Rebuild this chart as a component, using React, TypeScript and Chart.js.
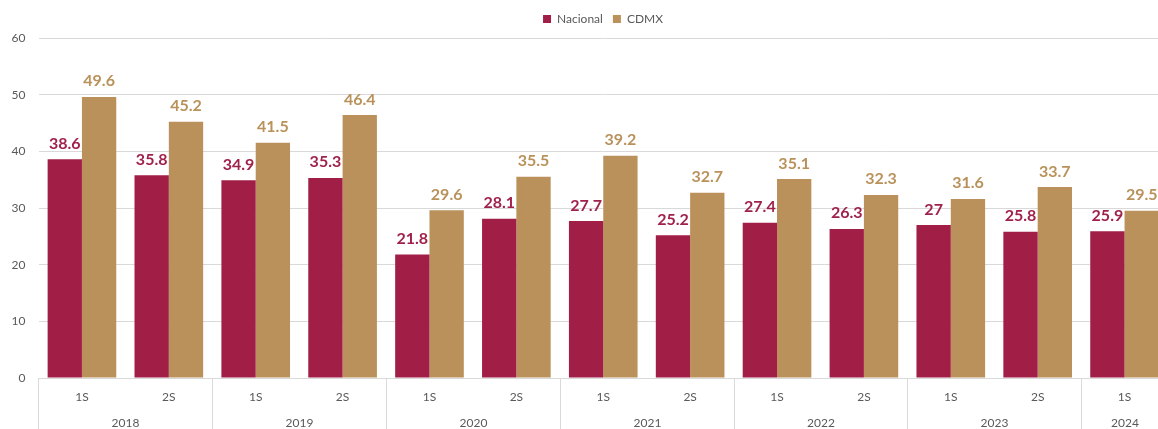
import React, { useEffect, useRef } from "react";
import { Chart, registerables } from "chart.js";

Chart.register(...registerables);

const semesters = ["1S", "2S", "1S", "2S", "1S", "2S", "1S", "2S", "1S", "2S", "1S", "2S", "1S"];
const years = ["2018", "2018", "2019", "2019", "2020", "2020", "2021", "2021", "2022", "2022", "2023", "2023", "2024"];
const nacional = [38.6, 35.8, 34.9, 35.3, 21.8, 28.1, 27.7, 25.2, 27.4, 26.3, 27, 25.8, 25.9];
const cdmx = [49.6, 45.2, 41.5, 46.4, 29.6, 35.5, 39.2, 32.7, 35.1, 32.3, 31.6, 33.7, 29.5];
const yTicks = [0, 10, 20, 30, 40, 50, 60];

const MAROON = "#A11F46";
const GOLD = "#BA915B";
const MAROON_TEXT = "#A0224C";
const GOLD_TEXT = "#B8925A";
const AXIS_TEXT = "#595959";
const GRID = "#D9D9D9";
const FONT = "Lato, 'Open Sans', sans-serif";

const dataLabelPlugin = {
  id: "dataLabels",
  afterDatasetsDraw(chart: any) {
    const ctx = chart.ctx;
    ctx.save();
    ctx.font = `bold 16px ${FONT}`;
    ctx.textAlign = "center";
    ctx.textBaseline = "alphabetic";
    chart.data.datasets.forEach((ds: any, di: number) => {
      const meta = chart.getDatasetMeta(di);
      ctx.fillStyle = ds.labelColor;
      meta.data.forEach((bar: any, i: number) => {
        ctx.fillText(String(ds.data[i]), bar.x, bar.y - 10.5);
      });
    });
    ctx.restore();
  },
};

const yearPlugin = {
  id: "yearGroups",
  afterDraw(chart: any) {
    const x = chart.scales.x;
    const ctx = chart.ctx;
    const area = chart.chartArea;
    const half = (x.getPixelForValue(1) - x.getPixelForValue(0)) / 2;
    const groups: { label: string; start: number; end: number }[] = [];
    years.forEach((y, i) => {
      const last = groups[groups.length - 1];
      if (last && last.label === y) last.end = i;
      else groups.push({ label: y, start: i, end: i });
    });
    ctx.save();
    ctx.strokeStyle = GRID;
    ctx.lineWidth = 1;
    ctx.fillStyle = AXIS_TEXT;
    ctx.font = `12px ${FONT}`;
    ctx.textAlign = "center";
    ctx.textBaseline = "middle";
    groups.forEach((g) => {
      const l = Math.round(x.getPixelForValue(g.start) - half) + 0.5;
      const r = Math.round(x.getPixelForValue(g.end) + half) + 0.5;
      ctx.beginPath();
      ctx.moveTo(l, area.bottom);
      ctx.lineTo(l, chart.height);
      ctx.moveTo(r, area.bottom);
      ctx.lineTo(r, chart.height);
      ctx.stroke();
      ctx.fillText(g.label, (l + r) / 2, 423);
    });
    ctx.restore();
  },
};

export default function App() {
  const ref = useRef<HTMLCanvasElement>(null);
  useEffect(() => {
    if (!ref.current) return;
    Chart.defaults.font.family = FONT;
    const chart = new Chart(ref.current, {
      type: "bar",
      data: {
        labels: semesters,
        datasets: [
          { label: "Nacional", data: nacional, backgroundColor: MAROON, labelColor: MAROON_TEXT } as any,
          { label: "CDMX", data: cdmx, backgroundColor: GOLD, labelColor: GOLD_TEXT } as any,
        ],
      },
      options: {
        responsive: false,
        animation: false,
        layout: { padding: { top: 3, left: 0, right: 0, bottom: 0 } },
        datasets: { bar: { categoryPercentage: 0.79, barPercentage: 1.0 } },
        plugins: {
          legend: {
            position: "top",
            labels: {
              boxWidth: 8,
              boxHeight: 8,
              padding: 10,
              color: AXIS_TEXT,
              font: { size: 12, family: FONT },
            },
          },
          tooltip: { enabled: false },
        },
        scales: {
          x: {
            grid: { display: false },
            border: { display: false },
            ticks: { color: AXIS_TEXT, font: { size: 12 }, padding: 4, maxRotation: 0, autoSkip: false },
            afterFit: (s: any) => {
              s.height = 51;
            },
          },
          xT: {
            type: "category",
            position: "top",
            display: true,
            grid: { display: false },
            border: { display: false },
            ticks: { display: false },
            afterFit: (s: any) => {
              s.height = 3;
            },
          },
          y: {
            min: 0,
            max: 60,
            afterBuildTicks: (s: any) => {
              s.ticks = yTicks.map((v) => ({ value: v }));
            },
            grid: { color: GRID, drawTicks: false },
            border: { display: false },
            ticks: { color: AXIS_TEXT, font: { size: 12 }, padding: 13 },
            afterFit: (s: any) => {
              s.width = 38.5;
            },
          },
          yR: {
            position: "right",
            display: true,
            grid: { display: false },
            border: { display: false },
            ticks: { display: false },
            afterFit: (s: any) => {
              s.width = 38;
            },
          },
        },
      } as any,
      plugins: [dataLabelPlugin, yearPlugin],
    });
    return () => chart.destroy();
  }, []);
  return (
    <div style={{ position: "absolute", left: 0, top: 0, width: 1158, height: 429, overflow: "hidden", background: "#fff" }}>
      <canvas ref={ref} width={1206} height={429} style={{ display: "block" }} />
    </div>
  );
}
